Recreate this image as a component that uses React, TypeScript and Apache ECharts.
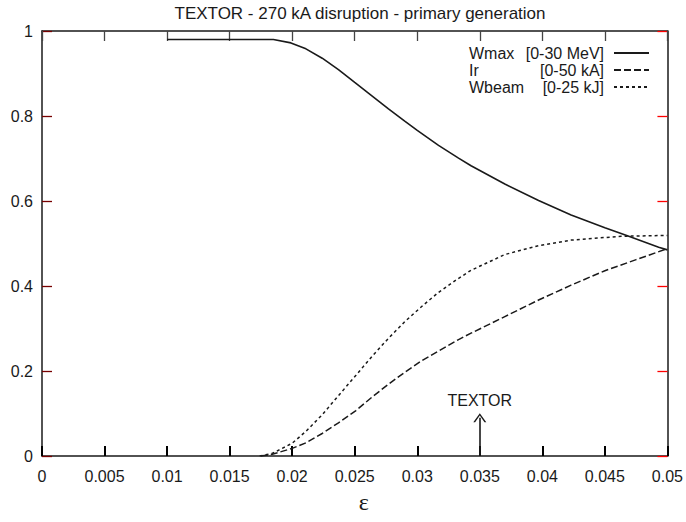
import React, { useEffect, useRef } from "react";
import * as echarts from "echarts";

const TITLE = "TEXTOR - 270 kA disruption - primary generation";
const X_NAME = "ε";
const SERIES_NAMES = ["Wmax", "Ir", "Wbeam"];
const SERIES_RANGES = ["[0-30 MeV]", "[0-50 kA]", "[0-25 kJ]"];

// [epsilon, normalised value]
const WMAX: [number, number][] = [
  [0.01, 0.98], [0.0185, 0.98], [0.0199, 0.972], [0.0211, 0.958], [0.0224, 0.936],
  [0.0237, 0.909], [0.025, 0.879], [0.0264, 0.847], [0.0277, 0.817], [0.029, 0.788],
  [0.03, 0.766], [0.0317, 0.731], [0.0333, 0.701], [0.0343, 0.683], [0.037, 0.64],
  [0.0397, 0.601], [0.0423, 0.567], [0.045, 0.537], [0.0468, 0.518], [0.0493, 0.491],
  [0.05, 0.485],
];
const IR: [number, number][] = [
  [0.0175, 0], [0.0184, 0.004], [0.02, 0.018], [0.0211, 0.031], [0.0224, 0.053],
  [0.0237, 0.078], [0.0251, 0.107], [0.0264, 0.139], [0.0277, 0.169], [0.029, 0.197],
  [0.0304, 0.225], [0.0317, 0.247], [0.0333, 0.274], [0.0343, 0.289], [0.037, 0.328],
  [0.0397, 0.367], [0.0423, 0.402], [0.045, 0.436], [0.0475, 0.462], [0.05, 0.488],
];
const WBEAM: [number, number][] = [
  [0.0174, 0], [0.0184, 0.006], [0.02, 0.03], [0.0211, 0.058], [0.0224, 0.097],
  [0.0237, 0.142], [0.0251, 0.19], [0.0264, 0.235], [0.0277, 0.277], [0.029, 0.316],
  [0.0304, 0.353], [0.0317, 0.385], [0.0332, 0.416], [0.0343, 0.437], [0.037, 0.474],
  [0.0397, 0.495], [0.0423, 0.508], [0.0463, 0.517], [0.05, 0.519],
];
const TEXTOR_EPS = 0.035;
const TEXTOR_ARROW_TOP = 0.09;
const TEXTOR_LABEL = "TEXTOR";

const X_MIN = 0, X_MAX = 0.05, X_STEP = 0.005;
const Y_MIN = 0, Y_MAX = 1, Y_STEP = 0.2;

const INK = "#1a1a1a";
const FONT = "'Liberation Sans', Arial, sans-serif";

export default function App() {
  const ref = useRef<HTMLDivElement>(null);
  useEffect(() => {
    if (!ref.current) return;
    const chart = echarts.init(ref.current, undefined, { renderer: "svg" });
    const axisLine = () => ({ show: true, onZero: false, lineStyle: { color: INK, width: 1.5 } });
    const axisTick = (c: string, w: number) => ({ show: true, inside: true, length: 10, lineStyle: { color: c, width: w } });
    const fmtX = (v: number) => parseFloat(v.toFixed(4)).toString();
    const fmtY = (v: number) => parseFloat(v.toFixed(2)).toString();
    const rangeOf: Record<string, string> = {};
    SERIES_NAMES.forEach((n, i) => (rangeOf[n] = SERIES_RANGES[i]));
    const dashes: any[] = ["solid", [7, 3], [3, 3]];
    const datas = [WMAX, IR, WBEAM];

    const series: any[] = SERIES_NAMES.map((name, i) => ({
      name,
      type: "line",
      data: datas[i],
      symbol: "none",
      smooth: false,
      xAxisIndex: 0,
      yAxisIndex: 0,
      lineStyle: { color: INK, width: i === 0 ? 1.6 : 1.5, type: dashes[i] },
      itemStyle: { color: INK },
      silent: true,
    }));
    series[0].markLine = {
      silent: true,
      symbol: ["none", "path://M5,0 L10,10 L8.6,10 L5,2.6 L1.4,10 L0,10 Z"],
      symbolSize: [13, 9],
      lineStyle: { color: INK, width: 1.6, type: "solid" },
      label: {
        show: true,
        position: "end",
        formatter: TEXTOR_LABEL,
        color: INK,
        fontSize: 16,
        fontFamily: FONT,
        distance: 9,
      },
      emphasis: { disabled: true },
      data: [[{ coord: [TEXTOR_EPS, 0] }, { coord: [TEXTOR_EPS, TEXTOR_ARROW_TOP] }]],
    };

    chart.setOption({
      animation: false,
      title: {
        text: TITLE,
        left: 355,
        textAlign: "center",
        top: 0,
        textStyle: { color: INK, fontSize: 17, fontWeight: "normal", fontFamily: FONT },
      },
      grid: { left: 42, right: 16, top: 31, bottom: 66 },
      legend: {
        data: SERIES_NAMES,
        orient: "vertical",
        align: "right",
        right: 36,
        top: 45,
        padding: 0,
        itemWidth: 35,
        itemHeight: 14,
        itemGap: 1,
        selectedMode: false,
        itemStyle: { opacity: 0 },
        textStyle: {
          color: INK,
          fontSize: 16,
          fontFamily: FONT,
          rich: {
            a: { width: 52, align: "left", fontSize: 16, fontFamily: FONT, color: INK, lineHeight: 16 },
            b: { width: 83, align: "right", fontSize: 16, fontFamily: FONT, color: INK, lineHeight: 16, padding: [0, 5, 0, 0] },
          },
        },
        formatter: (name: string) => `{a|${name}}{b|${rangeOf[name]}}`,
      },
      xAxis: [
        {
          type: "value",
          position: "bottom",
          min: X_MIN,
          max: X_MAX,
          interval: X_STEP,
          name: X_NAME,
          nameLocation: "middle",
          nameGap: 34,
          nameTextStyle: { color: INK, fontSize: 24, fontFamily: "'Liberation Serif', serif", padding: [0, 0, 0, 18] },
          axisLine: axisLine(),
          axisTick: axisTick("#000", 2),
          splitLine: { show: false },
          axisLabel: { color: INK, fontSize: 16, fontFamily: FONT, margin: 12, formatter: fmtX, showMaxLabel: true, showMinLabel: true },
        },
        {
          type: "value",
          position: "top",
          min: X_MIN,
          max: X_MAX,
          interval: X_STEP,
          axisLine: axisLine(),
          axisTick: axisTick("#444", 1.3),
          splitLine: { show: false },
          axisLabel: { show: false },
        },
      ],
      yAxis: [
        {
          type: "value",
          position: "left",
          min: Y_MIN,
          max: Y_MAX,
          interval: Y_STEP,
          axisLine: axisLine(),
          axisTick: axisTick("#700", 1.3),
          splitLine: { show: false },
          axisLabel: { color: INK, fontSize: 16, fontFamily: FONT, margin: 9, formatter: fmtY },
        },
        {
          type: "value",
          position: "right",
          min: Y_MIN,
          max: Y_MAX,
          interval: Y_STEP,
          axisLine: axisLine(),
          axisTick: axisTick("red", 1.3),
          splitLine: { show: false },
          axisLabel: { show: false },
        },
      ],
      series,
    });
    return () => chart.dispose();
  }, []);
  return <div ref={ref} style={{ position: "absolute", left: 0, top: 0, width: 686, height: 522 }} />;
}
